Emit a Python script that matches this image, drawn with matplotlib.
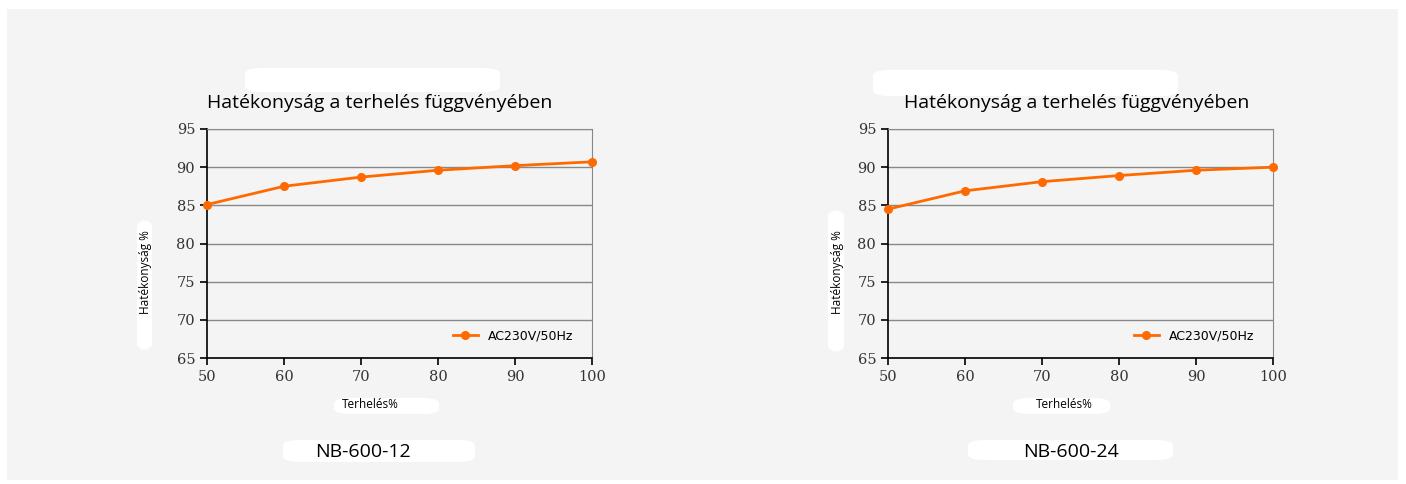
import numpy as np
import matplotlib.pyplot as plt
from matplotlib.patches import Rectangle, FancyBboxPatch

# Dane
load = [50, 60, 70, 80, 90, 100]
eff_12 = [85.1, 87.5, 88.7, 89.6, 90.2, 90.7]
eff_24 = [84.5, 86.9, 88.1, 88.9, 89.6, 90.0]
models = ['NB-600-12', 'NB-600-24']
series = [eff_12, eff_24]

W, H = 1406, 484
fig = plt.figure(figsize=(W / 100, H / 100), dpi=100, facecolor='white')

# Szare tło panelu
fig.patches.append(Rectangle((7 / W, 1 - 480 / H), (1398 - 7) / W, (480 - 9) / H,
                             transform=fig.transFigure, facecolor='#f4f4f4',
                             edgecolor='none', zorder=0))

def blob(x0, y0, x1, y1):
    # białe "zamazania" jak na oryginale
    fig.patches.append(FancyBboxPatch((x0 / W, 1 - y1 / H), (x1 - x0) / W, (y1 - y0) / H,
                                      boxstyle='round,pad=0,rounding_size=0.012',
                                      transform=fig.transFigure, facecolor='white',
                                      edgecolor='none', zorder=1))

orange = '#ff6a00'
lefts = [207, 888]
# przesunięcia tekstów względem lewej krawędzi osi (px)
title_dx = [173, 189]
xlab_dx = [163, 176]
ylab_dx = [-62, -50]
model_dx = [156, 183]

for i, (left, model, eff) in enumerate(zip(lefts, models, series)):
    ax = fig.add_axes([left / W, 1 - 358 / H, 385 / W, 229 / H], zorder=3)
    ax.set_facecolor('#f4f4f4')
    ax.plot(load, eff, color=orange, linewidth=2, marker='o', markersize=5.5,
            label='AC230V/50Hz', clip_on=False, zorder=3)
    ax.set_xlim(50, 100)
    ax.set_ylim(65, 95)
    ax.set_xticks(load)
    ax.set_yticks(np.arange(65, 96, 5))
    ax.grid(axis='y', color='#888888', linewidth=1)
    for s in ['top', 'right']:
        ax.spines[s].set_color('#888888')
    for s in ['left', 'bottom']:
        ax.spines[s].set_color('black')
        ax.spines[s].set_linewidth(1.2)
    ax.tick_params(direction='out', length=5, width=1.2, colors='black', labelsize=10.5)
    for lab in ax.get_xticklabels() + ax.get_yticklabels():
        lab.set_fontfamily('DejaVu Serif')
        lab.set_color('#333333')
    ax.legend(loc='lower right', frameon=False, fontsize=9, handlelength=2,
              bbox_to_anchor=(0.98, 0.02))

    if i == 0:
        blob(left + 38, 68, left + 293, 92)
        blob(left - 70, 220, left - 55, 350)
        blob(left + 127, 398, left + 232, 414)
        blob(left + 76, 440, left + 268, 462)
    else:
        blob(left - 15, 70, left + 290, 96)
        blob(left - 60, 210, left - 44, 352)
        blob(left + 125, 398, left + 222, 414)
        blob(left + 80, 440, left + 285, 460)

    fig.text((left + title_dx[i]) / W, 1 - 103 / H, 'Hatékonyság a terhelés függvényében',
             ha='center', va='center', fontsize=14, family='Open Sans', zorder=5)
    fig.text((left + xlab_dx[i]) / W, 1 - 405 / H, 'Terhelés%', ha='center', va='center',
             fontsize=8.5, family='Open Sans', zorder=5)
    fig.text((left + ylab_dx[i]) / W, 1 - 272 / H, 'Hatékonyság %', ha='center', va='center',
             rotation=90, fontsize=8.5, family='Open Sans', zorder=5)
    fig.text((left + model_dx[i]) / W, 1 - 452 / H, model, ha='center', va='center',
             fontsize=14, family='Open Sans', zorder=5)

fig.savefig('out.png', dpi=100)
